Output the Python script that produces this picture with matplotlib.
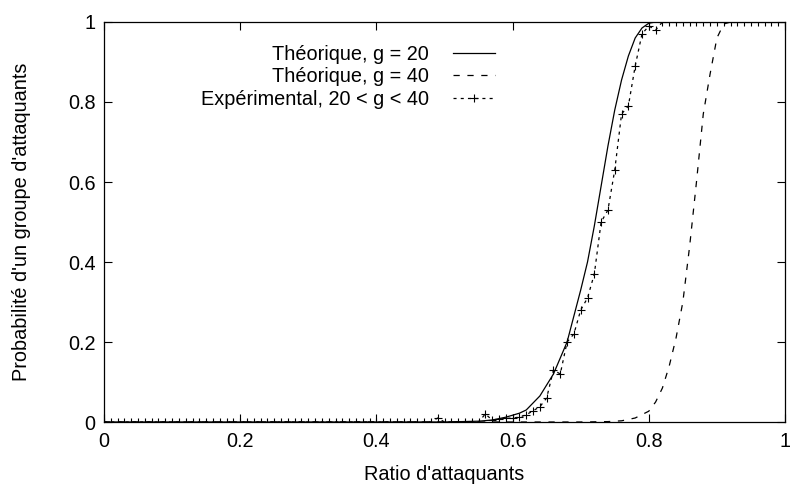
import numpy as np
import matplotlib
matplotlib.use('Agg')
from matplotlib import pyplot as plt
from matplotlib.ticker import FuncFormatter

plt.rcParams['font.family'] = ['Liberation Sans', 'DejaVu Sans']
plt.rcParams['font.size'] = 14.3
plt.rcParams['lines.scale_dashes'] = False

# theoretical curve, g = 20
x_g20 = [0.0, 0.50, 0.55, 0.57, 0.59, 0.61, 0.62, 0.64, 0.66, 0.68, 0.70, 0.71,
         0.72, 0.73, 0.74, 0.75, 0.76, 0.77, 0.78, 0.79, 0.80, 0.81, 1.0]
y_g20 = [0.0, 0.0, 0.002, 0.005, 0.012, 0.022, 0.03, 0.065, 0.12, 0.20, 0.33, 0.40,
         0.49, 0.59, 0.69, 0.78, 0.855, 0.915, 0.96, 0.985, 0.997, 1.0, 1.0]

# theoretical curve, g = 40
x_g40 = [0.0, 0.70, 0.74, 0.76, 0.78, 0.80, 0.81, 0.82, 0.83, 0.84, 0.85, 0.86,
         0.87, 0.88, 0.89, 0.90, 0.91, 0.92, 1.0]
y_g40 = [0.0, 0.0, 0.001, 0.003, 0.01, 0.027, 0.05, 0.085, 0.14, 0.21, 0.30, 0.44,
         0.60, 0.77, 0.87, 0.96, 0.995, 1.0, 1.0]

# experimental, 20 < g < 40 (ratio 0.00 .. 1.00, step 0.01)
x_exp = [round(0.01 * i, 2) for i in range(101)]
y_exp = ([0.0] * 49 + [0.01] + [0.0] * 6 + [0.02] +
         [0.005, 0.007, 0.009, 0.01, 0.012, 0.018, 0.028, 0.038, 0.06,
          0.13, 0.12, 0.20, 0.22, 0.28, 0.31, 0.37, 0.50, 0.53, 0.63,
          0.77, 0.79, 0.89, 0.97, 0.99, 0.98] +
         [1.0] * 19)

xticks = [0, 0.2, 0.4, 0.6, 0.8, 1]
yticks = [0, 0.2, 0.4, 0.6, 0.8, 1]

fig = plt.figure(figsize=(7.9, 4.91), dpi=100)
ax = fig.add_axes([104 / 790, 1 - 422 / 491, 681 / 790, 400 / 491])

ax.plot(x_g20, y_g20, '-', color='black', linewidth=0.9, label='Théorique, g = 20')
ax.plot(x_g40, y_g40, color='black', linewidth=0.9, dashes=(4.5, 5.5),
        label='Théorique, g = 40')
ax.plot(x_exp, y_exp, color='black', linewidth=0.9, dashes=(2.2, 3.0),
        marker='+', markersize=6, markeredgewidth=0.8,
        label='Expérimental, 20 < g < 40')

ax.set_xlim(0, 1)
ax.set_ylim(0, 1)
ax.set_xticks(xticks)
ax.set_yticks(yticks)
fmt = FuncFormatter(lambda v, p: '%g' % v)
ax.xaxis.set_major_formatter(fmt)
ax.yaxis.set_major_formatter(fmt)
ax.tick_params(direction='in', length=6, width=0.8, top=True, right=True)
ax.tick_params(axis='x', pad=7)
ax.tick_params(axis='y', pad=6)
for s in ax.spines.values():
    s.set_linewidth(0.9)

ax.set_xlabel("Ratio d'attaquants", labelpad=10)
ax.set_ylabel("Probabilité d'un groupe d'attaquants", labelpad=27)

ax.legend(loc='upper right', bbox_to_anchor=(503 / 790, 1 - 37 / 491),
          bbox_transform=fig.transFigure, frameon=False, markerfirst=False,
          handlelength=2.1, handletextpad=1.25, labelspacing=0.17, borderaxespad=0)

plt.savefig('out.png', dpi=100)
